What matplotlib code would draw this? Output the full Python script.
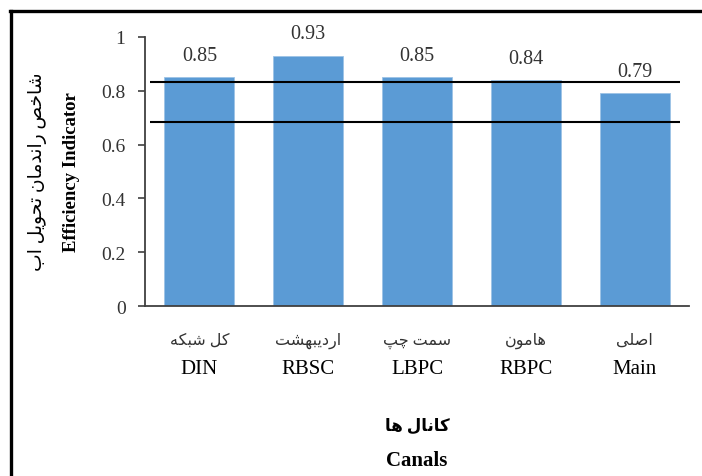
import matplotlib.pyplot as plt
from matplotlib.lines import Line2D

# Efficiency indicator per canal
canals_fa = ['کل شبکه', 'اردیبهشت', 'سمت چپ', 'هامون', 'اصلی']
canals_en = ['DIN', 'RBSC', 'LBPC', 'RBPC', 'Main']
efficiency = [0.85, 0.93, 0.85, 0.84, 0.79]

# Reference levels drawn across the chart
upper_level = 0.834
lower_level = 0.685

y_ticks = [0, 0.2, 0.4, 0.6, 0.8, 1]
y_tick_labels = ['0', '0.2', '0.4', '0.6', '0.8', '1']

ylabel_fa = 'شاخص راندمان تحویل اب'
ylabel_en = 'Efficiency Indicator'
xlabel_fa = 'کانال ها'
xlabel_en = 'Canals'

BAR_COLOR = '#5B9BD5'
TEXT_COLOR = '#333333'
FONTS = ['Liberation Serif', 'DejaVu Sans']

# Contextual letter forms (isolated, final, initial, medial)
FORMS = {
    'ا': ('\uFE8D', '\uFE8E'),
    'ب': ('\uFE8F', '\uFE90', '\uFE91', '\uFE92'),
    'پ': ('\uFB56', '\uFB57', '\uFB58', '\uFB59'),
    'ت': ('\uFE95', '\uFE96', '\uFE97', '\uFE98'),
    'چ': ('\uFB7A', '\uFB7B', '\uFB7C', '\uFB7D'),
    'ح': ('\uFEA1', '\uFEA2', '\uFEA3', '\uFEA4'),
    'خ': ('\uFEA5', '\uFEA6', '\uFEA7', '\uFEA8'),
    'د': ('\uFEA9', '\uFEAA'),
    'ر': ('\uFEAD', '\uFEAE'),
    'س': ('\uFEB1', '\uFEB2', '\uFEB3', '\uFEB4'),
    'ش': ('\uFEB5', '\uFEB6', '\uFEB7', '\uFEB8'),
    'ص': ('\uFEB9', '\uFEBA', '\uFEBB', '\uFEBC'),
    'ک': ('\uFB8E', '\uFB8F', '\uFB90', '\uFB91'),
    'ل': ('\uFEDD', '\uFEDE', '\uFEDF', '\uFEE0'),
    'م': ('\uFEE1', '\uFEE2', '\uFEE3', '\uFEE4'),
    'ن': ('\uFEE5', '\uFEE6', '\uFEE7', '\uFEE8'),
    'ه': ('\uFEE9', '\uFEEA', '\uFEEB', '\uFEEC'),
    'و': ('\uFEED', '\uFEEE'),
    'ی': ('\uFBFC', '\uFBFD', '\uFBFE', '\uFBFF'),
}


def shape_fa(text):
    # join the letters and put them in visual (left to right) order
    out = []
    for i, ch in enumerate(text):
        if ch not in FORMS:
            out.append(ch)
            continue
        prev = text[i - 1] if i > 0 else ''
        nxt = text[i + 1] if i + 1 < len(text) else ''
        joins_prev = prev in FORMS and len(FORMS[prev]) == 4
        joins_next = len(FORMS[ch]) == 4 and nxt in FORMS
        if joins_prev and joins_next:
            out.append(FORMS[ch][3])
        elif joins_prev:
            out.append(FORMS[ch][1])
        elif joins_next:
            out.append(FORMS[ch][2])
        else:
            out.append(FORMS[ch][0])
    return ''.join(reversed(out))


W, H = 702, 477
fig = plt.figure(figsize=(W / 100, H / 100), dpi=100)
ax = fig.add_axes([145 / W, 1 - 307 / H, 544 / W, 269 / H])

x = range(len(efficiency))
bars = ax.bar(x, efficiency, width=0.645, color=BAR_COLOR,
              edgecolor='#9DC3E6', linewidth=0.6, zorder=2)

for b, v in zip(bars, efficiency):
    ax.annotate('%.2f' % v, (b.get_x() + b.get_width() / 2, v),
                xytext=(0, 9), textcoords='offset points',
                ha='center', va='bottom', fontsize=14.5,
                family=FONTS, color=TEXT_COLOR)

ax.hlines([upper_level, lower_level], -0.455, 4.42,
          colors='black', linewidth=1.5, zorder=3)

ax.set_xlim(-0.5, 4.5)
ax.set_ylim(0, 1)
ax.set_yticks(y_ticks)
ax.set_yticklabels(y_tick_labels, family=FONTS, fontsize=14, color=TEXT_COLOR)
ax.set_xticks([])
ax.tick_params(axis='y', direction='out', length=5, width=1.2,
               color='#404040', pad=9)

for side in ('top', 'right'):
    ax.spines[side].set_visible(False)
for side in ('left', 'bottom'):
    ax.spines[side].set_color('#404040')
    ax.spines[side].set_linewidth(1.3)

# category labels, Persian above English
trans = ax.get_xaxis_transform()
for i, (fa, en) in enumerate(zip(canals_fa, canals_en)):
    ax.text(i, -(341 - 307) / 269, shape_fa(fa), transform=trans,
            ha='center', va='center', fontsize=11.5, family=FONTS,
            color=TEXT_COLOR)
    ax.text(i, -(370 - 307) / 269, en, transform=trans,
            ha='center', va='center', fontsize=15, family=FONTS,
            color='black')

# axis titles
cx = (145 + 689) / 2 / W
fig.text(cx, 1 - 427 / H, shape_fa(xlabel_fa), ha='center', va='center',
         fontsize=12, fontweight='bold', family=FONTS)
fig.text(cx, 1 - 461 / H, xlabel_en, ha='center', va='center',
         fontsize=15, fontweight='bold', family=FONTS)
fig.text(38 / W, 1 - 172 / H, shape_fa(ylabel_fa), rotation=90,
         ha='center', va='center', fontsize=13.5, family=FONTS)
fig.text(71 / W, 1 - 172 / H, ylabel_en, rotation=90,
         ha='center', va='center', fontsize=13.5, fontweight='bold',
         family=FONTS)

# frame around the figure (left and top edges)
fig.add_artist(Line2D([11 / W, 11 / W], [0, 1 - 12 / H],
                      transform=fig.transFigure, color='black', linewidth=2.4))
fig.add_artist(Line2D([10 / W, 1], [1 - 12 / H, 1 - 12 / H],
                      transform=fig.transFigure, color='black', linewidth=2.4))

fig.savefig('out.png', dpi=100)
